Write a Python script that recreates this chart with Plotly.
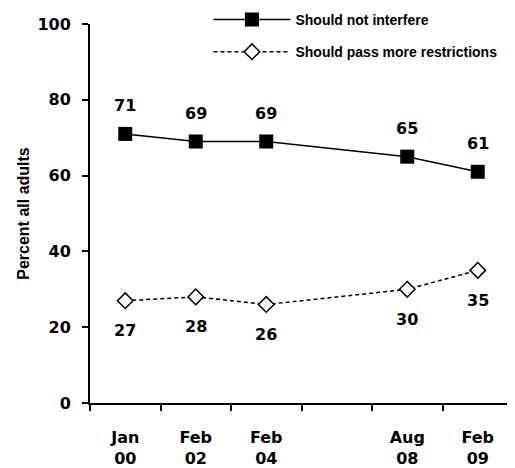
import plotly.graph_objects as go

# survey dates (one empty slot between Feb 04 and Aug 08)
slots = ["Jan<br>00", "Feb<br>02", "Feb<br>04", "", "Aug<br>08", "Feb<br>09"]
dates = ["Jan<br>00", "Feb<br>02", "Feb<br>04", "Aug<br>08", "Feb<br>09"]
not_interfere = [71, 69, 69, 65, 61]
more_restrictions = [27, 28, 26, 30, 35]

FONT = "Liberation Sans"
NUM_FONT = "DejaVu Sans"

xpos = [slots.index(d) for d in dates]

fig = go.Figure()

fig.add_trace(go.Scatter(
    x=xpos, y=not_interfere, mode="lines+markers",
    name="Should not interfere", legendgroup="a",
    line=dict(color="black", width=1.5),
    marker=dict(symbol="square", size=14, color="black"),
))
fig.add_trace(go.Scatter(
    x=xpos, y=more_restrictions, mode="lines+markers",
    name="Should pass more restrictions", legendgroup="b",
    line=dict(color="black", width=1.5, dash="4px,3px"),
    marker=dict(symbol="diamond", size=12, color="white",
                line=dict(color="black", width=1.5)),
))

# value labels
for x, v in zip(xpos, not_interfere):
    fig.add_annotation(x=x, y=v, text=str(v), showarrow=False, yshift=28,
                       font=dict(family=NUM_FONT, size=16, weight="bold"))
for x, v in zip(xpos, more_restrictions):
    fig.add_annotation(x=x, y=v, text=str(v), showarrow=False, yshift=-30,
                       font=dict(family=NUM_FONT, size=16, weight="bold"))

# page body has an 8px margin, so the figure is drawn 8px smaller
fig.update_layout(
    width=507, height=460,
    margin=dict(l=82, r=2, t=16, b=65, autoexpand=False),
    plot_bgcolor="white", paper_bgcolor="white",
    font=dict(family=FONT, size=15, color="black", weight="bold"),
    showlegend=True,
    legend=dict(
        x=0.28, y=1.053, xanchor="left", yanchor="top",
        bgcolor="rgba(0,0,0,0)", itemwidth=77,
        font=dict(family=FONT, size=14, weight="bold"),
        tracegroupgap=11,
    ),
)

fig.update_xaxes(
    range=[-0.5, len(slots) - 0.5],
    tickmode="array", tickvals=list(range(len(slots))), ticktext=slots,
    ticks="outside", ticklen=19, tickcolor="rgba(0,0,0,0)",
    minor=dict(tickmode="array",
               tickvals=[i - 0.5 for i in range(len(slots) + 1)],
               ticks="outside", ticklen=6, tickcolor="black", tickwidth=2,
               showgrid=False),
    showline=True, linecolor="black", linewidth=2,
    showgrid=False, zeroline=False,
    tickfont=dict(family=NUM_FONT, size=16, weight="bold"),
)
fig.update_yaxes(
    range=[0, 100], tickvals=[0, 20, 40, 60, 80, 100],
    ticklabelstandoff=8,
    showline=True, linecolor="black", linewidth=2,
    ticks="outside", ticklen=6, tickcolor="black", tickwidth=2,
    showgrid=False, zeroline=False,
    title=dict(text="Percent all adults", standoff=4,
               font=dict(family=FONT, size=16, weight="bold")),
    tickfont=dict(family=NUM_FONT, size=16, weight="bold"),
)

fig.write_html("out.html")
